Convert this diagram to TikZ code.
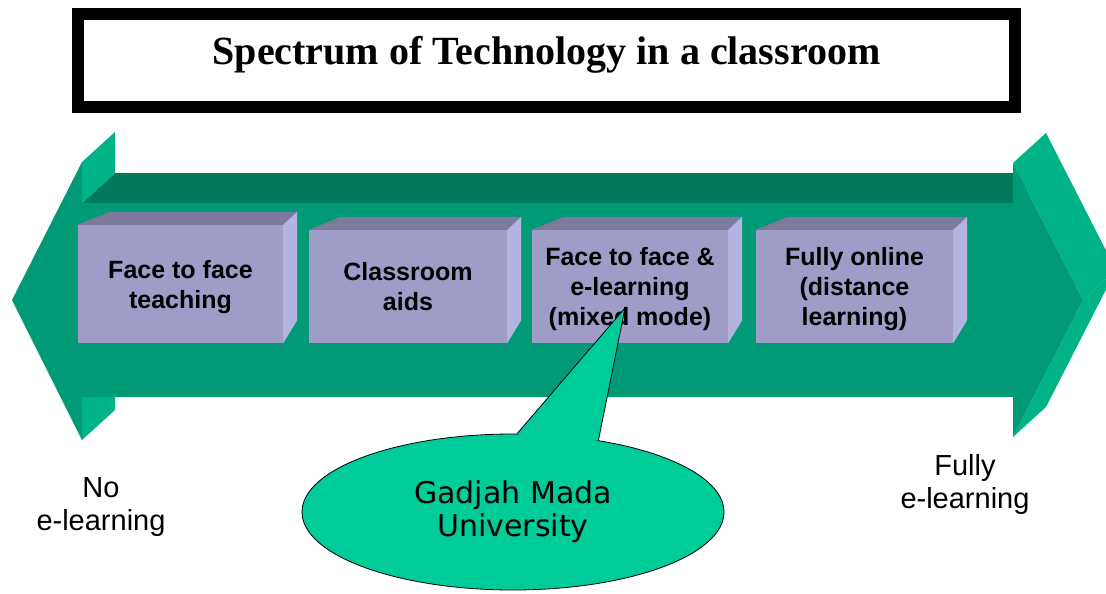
\documentclass[tikz,border=0pt]{standalone}
\usepackage{fontspec}
\setmainfont{Liberation Serif}
\setsansfont{Liberation Sans}
\newfontfamily\calloutfont{DejaVu Sans}
\usepackage{tikz}
\usetikzlibrary{shapes.geometric}

\definecolor{arrowfront}{RGB}{0,155,118}
\definecolor{arrowtop}{RGB}{0,122,90}
\definecolor{arrowside}{RGB}{0,179,134}
\definecolor{cubefront}{RGB}{159,157,199}
\definecolor{cubetop}{RGB}{125,123,156}
\definecolor{cubeside}{RGB}{179,179,226}
\definecolor{calloutfill}{RGB}{0,204,153}

\tikzset{
  cube/.style={fill=cubefront, minimum width=198pt, minimum height=113pt, inner sep=0pt,
    align=center, text depth=-3pt, font=\sffamily\bfseries\fontsize{25}{30}\selectfont},
  side/.style={align=center, font=\sffamily\fontsize{29}{33}\selectfont},
  callout/.style={ellipse, draw=black, line width=0.8pt, fill=calloutfill, inner sep=0pt,
    minimum width=422pt, minimum height=156pt, align=center,
    font=\calloutfont\fontsize{30}{33}\selectfont},
  titlebox/.style={draw=black, line width=12pt, fill=white, minimum width=937pt,
    minimum height=93pt, inner sep=0pt, text height=26pt, text depth=17pt,
    font=\bfseries\fontsize{40}{42}\selectfont}
}

\begin{document}
\begin{tikzpicture}[x=1pt,y=-1pt]
\useasboundingbox (0,0) rectangle (1106,594);

% double arrow, back faces first
\fill[arrowtop] (82,203) -- (115,173) -- (1046,173) -- (1013,203) -- cycle;
\fill[arrowside] (82,162) -- (115,132) -- (115,173) -- (82,203) -- cycle;
\fill[arrowside] (82,397) -- (115,367) -- (115,410) -- (82,440) -- cycle;
\fill[arrowside] (1013,163) -- (1046,133) -- (1116,270) -- (1083,300) -- cycle;
\fill[arrowside] (1083,300) -- (1116,270) -- (1046,407) -- (1013,437) -- cycle;
\fill[arrowfront] (12,300) -- (82,162) -- (82,203) -- (1013,203) -- (1013,163)
  -- (1083,300) -- (1013,437) -- (1013,397) -- (82,397) -- (82,440) -- cycle;

% the four stages
\node[cube, minimum width=205pt, minimum height=118pt] (ftf) at (180.5,284) {Face to face\\teaching};
\node[cube] (aids) at (408,286.5) {Classroom\\aids};
\node[cube, minimum width=196pt] (mixed) at (630,286.5) {Face to face \&\\e-learning\\(mixed mode)};
\node[cube, minimum width=197pt] (online) at (854.5,286.5) {Fully online\\(distance\\learning)};

\foreach \n in {ftf,aids,mixed,online} {
  \fill[cubetop] (\n.north west) -- ++(32,-13) -- ([shift={(14,-13)}]\n.north east) -- (\n.north east) -- cycle;
  \fill[cubeside] (\n.north east) -- ++(14,-13) -- ([shift={(14,-23)}]\n.south east) -- (\n.south east) -- cycle;
}

% callout
\node[callout] (gmu) at (513,512) {Gadjah Mada\\University};
\coordinate (tip) at (625,308);
\fill[calloutfill] (gmu.87) -- (tip) -- (gmu.40) -- ([yshift=-15pt]gmu.62) -- cycle;
\draw[line width=0.8pt] (gmu.87) -- (tip) -- (gmu.40);

% ends of the spectrum
\node[side] (none) at (101,507) {No\\e-learning};
\node[side] (full) at (965,484) {Fully\\e-learning};

% title
\node[titlebox] (title) at (546.5,60.5) {Spectrum of Technology in a classroom};
\end{tikzpicture}
\end{document}
